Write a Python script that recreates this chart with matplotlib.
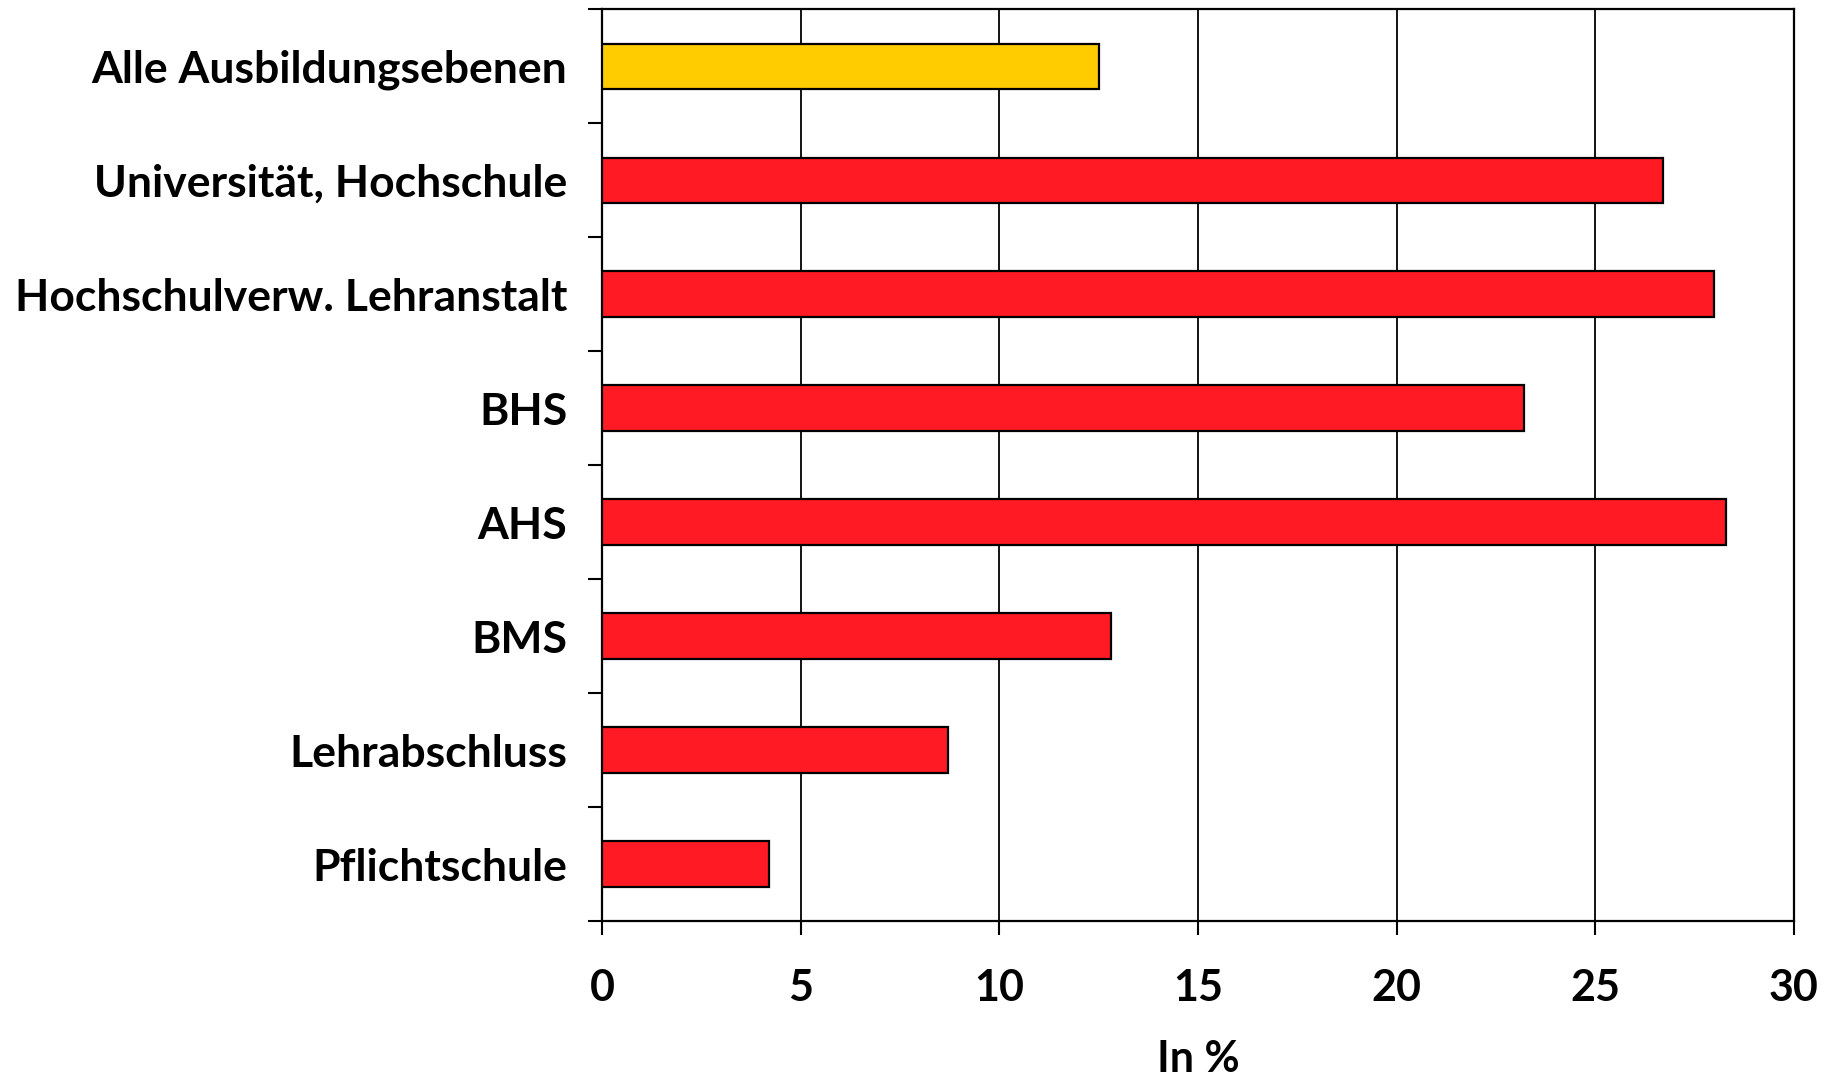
import matplotlib.pyplot as plt
import numpy as np

categories = ["Alle Ausbildungsebenen", "Universität, Hochschule", "Hochschulverw. Lehranstalt",
              "BHS", "AHS", "BMS", "Lehrabschluss", "Pflichtschule"]
values = [12.5, 26.7, 28.0, 23.2, 28.3, 12.8, 8.7, 4.2]
colors = ["#FFCC00"] + ["#FF1A24"] * 7
xticks = [0, 5, 10, 15, 20, 25, 30]


def main():
    plt.rcParams["font.family"] = ["Lato", "DejaVu Sans"]
    plt.rcParams["font.weight"] = "bold"

    fig = plt.figure(figsize=(18.33, 10.82), dpi=100)
    ax = fig.add_axes([0.3284, 0.1488, 0.6503, 0.8425])

    y = np.arange(len(categories))
    ax.barh(y, values, height=0.4, color=colors, edgecolor="black", linewidth=1.6, zorder=3)

    ax.set_xlim(0, 30)
    ax.set_ylim(len(categories) - 0.5, -0.5)
    ax.set_xticks(xticks)
    ax.set_xticklabels([str(t) for t in xticks], fontsize=31, fontweight="bold")
    ax.set_yticks(y)
    ax.set_yticklabels(categories, fontsize=32, fontweight="bold")
    ax.set_yticks(np.arange(len(categories) + 1) - 0.5, minor=True)

    ax.tick_params(axis="y", which="major", length=0, pad=25)
    ax.tick_params(axis="y", which="minor", length=10, width=1.5, direction="out")
    ax.tick_params(axis="x", length=10, width=1.5, direction="out", pad=24)

    ax.grid(axis="x", color="black", linewidth=1.3, zorder=0)
    ax.set_axisbelow(True)
    for s in ax.spines.values():
        s.set_linewidth(1.6)

    ax.set_xlabel("In %", fontsize=31, fontweight="bold", labelpad=22)

    fig.savefig("out.png", dpi=100)


if __name__ == "__main__":
    main()
